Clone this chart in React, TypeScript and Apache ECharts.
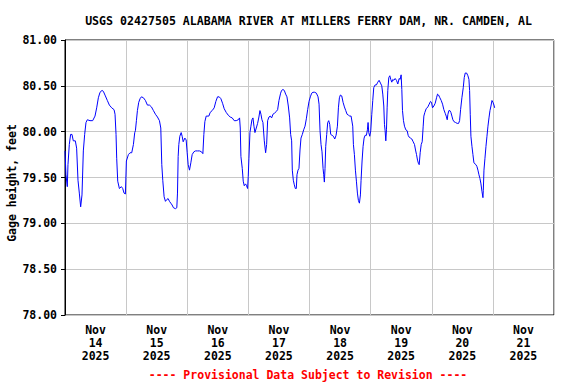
import React, { useEffect, useRef } from "react";
import * as echarts from "echarts";

const TITLE = "USGS 02427505 ALABAMA RIVER AT MILLERS FERRY DAM, NR. CAMDEN, AL";
const Y_NAME = "Gage height, feet";
const FOOTNOTE = "---- Provisional Data Subject to Revision ----";
const MONTH = "Nov";
const YEAR = "2025";
const DAY_LABELS = ["14", "15", "16", "17", "18", "19", "20", "21"];
const Y_MIN = 78;
const Y_MAX = 81;
const Y_STEP = 0.5;

// hours since Nov 14 2025 00:00
const hours = [
  0, 0.38, 0.9, 1.17, 1.69, 2.2, 2.74, 3.26, 4.05, 4.57, 5.1, 5.62, 6.15, 6.67, 7.2, 7.72, 8.24, 8.77, 9.82, 10.87,
  11.78, 12.44, 13.1, 13.75, 14.54, 15.06, 15.85, 16.63, 17.42, 18.34, 19.26, 19.65, 20.04, 20.3, 20.7, 21.35, 22.14,
  22.66, 23.19, 23.71, 24.1, 24.89, 25.55, 26.2, 26.86, 27.38,
  27.64, 28.04, 28.43, 28.95, 29.48, 30.0, 30.79, 31.58, 32.36, 33.15, 33.94, 34.72, 35.51, 36.3, 37.08, 37.61, 38.0,
  38.39, 38.92, 39.44, 39.97, 40.49, 41.02, 41.54, 42.06, 42.59, 43.38, 43.9, 44.17, 44.43, 44.69, 45.08, 45.61, 46.0,
  46.4, 47.05, 47.57, 47.97, 48.36, 48.88, 49.41, 49.93, 50.59, 51.24, 52.03, 52.82, 53.6, 54.13, 54.52, 54.92, 55.44,
  56.48, 57.0, 57.79, 58.58, 59.23, 59.89, 60.54, 61.2, 61.86, 62.51, 63.3, 64.08, 64.87, 65.66, 66.44, 67.23, 68.02,
  68.54, 68.81, 69.07, 69.6, 69.98, 70.38, 70.9, 71.3, 71.69, 71.95, 72.22, 72.61, 73.0, 73.4, 73.8, 74.19, 74.58, 75.1,
  75.62, 76.14, 76.54, 76.94, 77.33, 77.72, 78.25, 78.77, 79.17, 79.56, 80.08, 80.6, 81.13, 81.65, 82.18, 82.96, 83.49,
  84.01,
  84.66, 85.05, 85.58, 86.1, 86.63, 87.15, 87.68, 88.2, 88.6, 88.99, 89.25, 89.65, 90.04, 90.43, 90.82, 91.09, 91.48,
  91.87, 92.27, 92.66, 93.19, 93.71, 94.24, 94.76, 95.28, 95.81, 96.33, 96.86, 97.38, 98.04, 98.7, 99.35, 99.75, 100.14,
  100.53, 100.92, 101.32, 101.58, 101.84, 102.1, 102.37, 102.76, 103.15, 103.54, 103.94, 104.33, 104.86, 105.38, 105.91,
  106.43, 106.96, 107.35, 107.74, 108.13, 108.66, 109.18, 109.71, 110.23, 110.76, 111.28, 111.81, 112.33,
  112.98, 113.24, 113.63, 114.03, 114.42, 114.81, 115.2, 115.6, 115.99, 116.25, 116.64, 117.04, 117.43, 117.83, 118.35,
  118.74, 119.0, 119.27, 119.66, 120.05, 120.45, 120.84, 121.23, 121.76, 122.28, 122.81, 123.33, 123.86, 124.38, 124.77,
  125.17, 125.43, 125.69, 125.96, 126.22, 126.48, 126.74, 127.14, 127.53, 127.92, 128.31, 128.71, 129.1, 129.63, 130.15,
  130.67, 131.2, 131.59, 131.98, 132.25, 132.51, 132.9, 133.3, 133.82, 134.35, 134.74, 135.13, 135.66, 136.18, 136.71,
  137.23, 137.63, 138.02, 138.41, 138.81, 139.07, 139.46, 139.86, 140.25, 140.64,
  140.9, 141.29, 141.81, 142.47, 142.99, 143.52, 143.91, 144.3, 144.83, 145.35, 145.88, 146.27, 146.67, 147.19, 147.72,
  148.24, 148.76, 149.29, 149.68, 150.07, 150.34, 150.73, 151.12, 151.51, 151.91, 152.3, 152.7, 153.35, 154.0, 154.53,
  154.93, 155.32, 155.84, 156.37, 156.76, 157.15, 157.68, 158.2, 158.6, 158.86, 159.12, 159.38, 159.78, 160.17, 160.56,
  160.96, 161.35, 161.74, 162.14, 162.53, 162.92, 163.32, 163.71, 164.1, 164.24, 164.5, 164.89, 165.29, 165.68, 166.07,
  166.47, 166.86, 167.25, 167.65, 168.04, 168.43, 168.7,
];

// gage height, feet
const gage = [
  79.79, 79.53, 79.4, 79.64, 79.86, 79.97, 79.97, 79.9, 79.9, 79.82, 79.47, 79.33, 79.18, 79.31, 79.79, 79.97, 80.1,
  80.13, 80.12, 80.12, 80.17, 80.26, 80.37, 80.43, 80.45, 80.44, 80.39, 80.34, 80.29, 80.26, 80.24, 80.19, 79.97, 79.71,
  79.46, 79.38, 79.4, 79.38, 79.33, 79.32, 79.68, 79.75, 79.77, 79.77, 79.86, 79.99,
  80.01, 80.12, 80.23, 80.32, 80.36, 80.38, 80.37, 80.34, 80.29, 80.29, 80.27, 80.23, 80.19, 80.16, 80.12, 80.04, 79.64,
  79.47, 79.29, 79.24, 79.26, 79.27, 79.24, 79.22, 79.2, 79.17, 79.16, 79.17, 79.33, 79.73, 79.86, 79.95, 79.99, 79.95,
  79.89, 79.93, 79.91, 79.77, 79.64, 79.58, 79.66, 79.75, 79.78, 79.79, 79.79, 79.79, 79.78, 79.76, 79.97, 80.11, 80.17,
  80.17, 80.21, 80.23, 80.26, 80.33, 80.38, 80.38, 80.36, 80.31, 80.25, 80.21, 80.18, 80.16, 80.15, 80.12, 80.12, 80.13,
  80.15, 80.04, 79.73, 79.6, 79.46, 79.41, 79.43, 79.41, 79.38, 79.51, 79.71, 79.99, 80.06, 80.13, 80.15, 80.06, 79.99,
  80.04, 80.09, 80.16, 80.23, 80.19, 80.13, 80.1, 79.9, 79.77, 79.86, 80.12, 80.16, 80.17, 80.15, 80.19, 80.2, 80.22,
  80.24, 80.34,
  80.42, 80.45, 80.46, 80.45, 80.41, 80.38, 80.28, 80.15, 79.97, 79.9, 79.58, 79.47, 79.42, 79.38, 79.38, 79.53, 79.58,
  79.6, 79.8, 79.93, 79.97, 80.02, 80.06, 80.14, 80.24, 80.33, 80.38, 80.42, 80.43, 80.43, 80.42, 80.38, 80.3, 80.01,
  79.86, 79.78, 79.6, 79.53, 79.45, 79.6, 79.84, 79.97, 80.1, 80.12, 80.08, 79.97, 79.96, 79.95, 79.92, 79.96, 80.06,
  80.26, 80.37, 80.4, 80.39, 80.32, 80.27, 80.23, 80.19, 80.18, 80.17, 80.17,
  80.06, 79.86, 79.75, 79.58, 79.46, 79.33, 79.25, 79.22, 79.31, 79.47, 79.68, 79.84, 79.93, 79.96, 79.96, 80.02, 80.1,
  79.99, 79.95, 80.01, 80.19, 80.34, 80.48, 80.51, 80.51, 80.54, 80.56, 80.53, 80.5, 80.41, 80.28, 80.08, 80.01, 79.9,
  80.02, 80.26, 80.45, 80.59, 80.61, 80.57, 80.54, 80.57, 80.56, 80.58, 80.56, 80.52, 80.58, 80.57, 80.62, 80.46, 80.23,
  80.12, 80.06, 80.02, 80.01, 79.96, 79.94, 79.93, 79.92, 79.89, 79.86, 79.8, 79.75, 79.69, 79.65, 79.64, 79.77, 79.86,
  79.89, 80.06,
  80.17, 80.21, 80.25, 80.27, 80.3, 80.33, 80.32, 80.26, 80.28, 80.31, 80.37, 80.41, 80.4, 80.37, 80.34, 80.3, 80.24,
  80.2, 80.17, 80.13, 80.19, 80.23, 80.23, 80.21, 80.17, 80.13, 80.11, 80.1, 80.09, 80.09, 80.12, 80.24, 80.37, 80.48,
  80.59, 80.64, 80.64, 80.61, 80.57, 80.45, 80.19, 79.95, 79.84, 79.75, 79.66, 79.65, 79.64, 79.62, 79.58, 79.53, 79.49,
  79.43, 79.35, 79.28, 79.36, 79.58, 79.71, 79.84, 79.95, 80.06, 80.15, 80.23, 80.28, 80.34, 80.32, 80.29, 80.26,
];

const FONT = "'DejaVu Sans Mono', 'Liberation Mono', monospace";

export default function App() {
  const ref = useRef<HTMLDivElement>(null);

  useEffect(() => {
    if (!ref.current) return;
    const chart = echarts.init(ref.current, undefined, { renderer: "svg" });
    const labelPositions = DAY_LABELS.map((_, i) => 12 + 24 * i);
    const option: any = {
      animation: false,
      backgroundColor: "#ffffff",
      grid: {
        left: 65,
        right: 22,
        top: 40,
        bottom: 69,
        show: true,
        borderColor: "#000000",
        borderWidth: 1,
        backgroundColor: "transparent",
      },
      xAxis: {
        type: "value",
        min: 0,
        max: DAY_LABELS.length * 24,
        interval: 24,
        axisLine: { show: false },
        axisTick: { show: false },
        splitLine: { show: true, lineStyle: { color: "#c8c8c8", width: 1 } },
        axisLabel: {
          customValues: labelPositions,
          formatter: (v: number) => {
            const idx = Math.round((v - 12) / 24);
            return `${MONTH}\n${DAY_LABELS[idx] ?? ""}\n${YEAR}`;
          },
          color: "#000000",
          fontFamily: FONT,
          fontWeight: "bold",
          fontSize: 11.5,
          lineHeight: 12.7,
          margin: 9,
        },
      },
      yAxis: {
        type: "value",
        min: Y_MIN,
        max: Y_MAX,
        interval: Y_STEP,
        axisLine: { show: true, lineStyle: { color: "#000000", width: 1 } },
        axisTick: { show: true, length: 4, lineStyle: { color: "#000000", width: 1 } },
        splitLine: { show: true, lineStyle: { color: "#c8c8c8", width: 1 } },
        axisLabel: {
          formatter: (v: number) => v.toFixed(2),
          color: "#000000",
          fontFamily: FONT,
          fontWeight: "bold",
          fontSize: 11.5,
          margin: 8,
        },
      },
      series: [
        {
          type: "line",
          data: hours.map((h, i) => [h, gage[i]]),
          symbol: "none",
          silent: true,
          lineStyle: { color: "#0000ff", width: 1 },
        },
      ],
      graphic: [
        {
          type: "text",
          x: 308.5,
          y: 21,
          style: {
            text: TITLE,
            align: "center",
            verticalAlign: "middle",
            fill: "#000000",
            font: `bold 11.6px ${FONT}`,
          },
        },
        {
          type: "text",
          x: 12,
          y: 183,
          rotation: Math.PI / 2,
          style: {
            text: Y_NAME,
            align: "center",
            verticalAlign: "middle",
            fill: "#000000",
            font: `bold 11.5px ${FONT}`,
          },
        },
        {
          type: "text",
          x: 308,
          y: 374.5,
          style: {
            text: FOOTNOTE,
            align: "center",
            verticalAlign: "middle",
            fill: "#ff0000",
            font: `bold 11.5px ${FONT}`,
          },
        },
      ],
    };
    chart.setOption(option);
    return () => chart.dispose();
  }, []);

  return (
    <div
      ref={ref}
      style={{ position: "fixed", left: 0, top: 0, width: 576, height: 384, background: "#fff" }}
    />
  );
}
